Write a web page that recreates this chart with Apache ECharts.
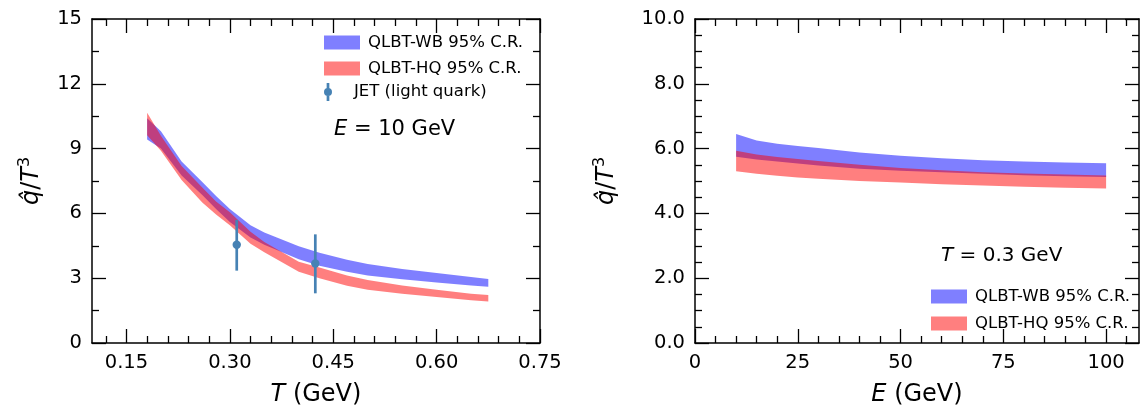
<!DOCTYPE html>
<html>
<head>
<meta charset="utf-8">
<script src="https://cdn.jsdelivr.net/npm/echarts@6/dist/echarts.min.js"></script>
<style>
  html, body { margin: 0; padding: 0; background: #fff; }
  #chart { width: 1140px; height: 411px; }
</style>
</head>
<body>
<div id="chart"></div>
<script>
// 左图: qhat/T^3 随 T 变化 (E = 10 GeV)
const tempT  = [0.18, 0.20, 0.23, 0.26, 0.28, 0.30, 0.33, 0.35, 0.40, 0.43, 0.47, 0.50, 0.55, 0.60, 0.65, 0.675];
const wbTopT = [10.4, 9.8, 8.4, 7.45, 6.8, 6.2, 5.45, 5.12, 4.48, 4.18, 3.85, 3.66, 3.43, 3.24, 3.05, 2.96];
const wbBotT = [9.42, 9.0, 7.75, 6.85, 6.2, 5.6, 4.88, 4.55, 3.88, 3.58, 3.3, 3.12, 2.95, 2.8, 2.66, 2.6];
const hqTopT = [10.66, 9.6, 8.2, 7.2, 6.55, 6.05, 5.15, 4.68, 3.76, 3.5, 3.12, 2.92, 2.66, 2.46, 2.28, 2.22];
const hqBotT = [9.62, 8.9, 7.55, 6.5, 5.95, 5.45, 4.6, 4.2, 3.3, 3.0, 2.65, 2.47, 2.28, 2.13, 1.98, 1.92];

// JET 点 (light quark)
const jetT   = [0.31, 0.424];
const jetVal = [4.55, 3.68];
const jetLo  = [3.35, 2.3];
const jetHi  = [5.7, 5.03];

// 右图: qhat/T^3 随 E 变化 (T = 0.3 GeV)
const energyE = [10, 15, 20, 25, 30, 40, 50, 60, 70, 80, 90, 100];
const wbTopE  = [6.45, 6.25, 6.15, 6.08, 6.02, 5.88, 5.78, 5.7, 5.64, 5.6, 5.57, 5.55];
const wbBotE  = [5.75, 5.66, 5.6, 5.54, 5.48, 5.38, 5.32, 5.27, 5.22, 5.18, 5.15, 5.12];
const hqTopE  = [5.93, 5.82, 5.74, 5.68, 5.62, 5.5, 5.4, 5.33, 5.27, 5.23, 5.2, 5.17];
const hqBotE  = [5.3, 5.22, 5.16, 5.11, 5.07, 5.0, 4.95, 4.9, 4.86, 4.82, 4.79, 4.77];

// 刻度
const tMajor = [0.15, 0.30, 0.45, 0.60, 0.75];
const tMinor = [0.12, 0.18, 0.21, 0.24, 0.27, 0.33, 0.36, 0.39, 0.42, 0.48, 0.51, 0.54, 0.57, 0.63, 0.66, 0.69, 0.72];
const qLeftMajor = [0, 3, 6, 9, 12, 15];
const qLeftMinor = [1.5, 4.5, 7.5, 10.5, 13.5];
const eMajor = [0, 25, 50, 75, 100];
const eMinor = [5, 10, 15, 20, 30, 35, 40, 45, 55, 60, 65, 70, 80, 85, 90, 95, 105];
const qRightMajor = [0, 2, 4, 6, 8, 10];
const qRightMinor = [0.5, 1, 1.5, 2.5, 3, 3.5, 4.5, 5, 5.5, 6.5, 7, 7.5, 8.5, 9, 9.5];

const FONT = 'DejaVu Sans';
const WB_COLOR = 'rgba(0, 0, 255, 0.5)';
const HQ_COLOR = 'rgba(255, 0, 0, 0.5)';
const JET_COLOR = '#4682b4';

const chart = echarts.init(document.getElementById('chart'));

// 一个坐标方向上的四根轴: 主刻度/次刻度, 两侧各一套 (刻度朝内)
function makeAxes(dim, gridIndex, min, max, major, minor, fmt, name, nameGap) {
  const sides = dim === 'x' ? ['bottom', 'top'] : ['left', 'right'];
  const axes = [];
  sides.forEach((pos, si) => {
    [major, minor].forEach((vals, mi) => {
      const isMain = si === 0 && mi === 0;
      axes.push({
        type: 'value',
        gridIndex,
        position: pos,
        min,
        max,
        nameMoveOverlap: false,
        name: isMain ? name : '',
        nameLocation: 'middle',
        nameGap,
        nameTextStyle: {
          fontFamily: FONT,
          fontSize: 24,
          color: '#000',
          rich: {
            i: { fontFamily: FONT, fontSize: 24, fontStyle: 'italic', color: '#000' },
            s: { fontFamily: FONT, fontSize: 16, color: '#000', padding: [0, 0, 14, 0] },
          },
        },
        axisLine: {
          show: mi === 0,
          onZero: false,
          lineStyle: { color: '#000', width: 1.5 },
        },
        axisTick: {
          show: true,
          inside: true,
          length: mi === 0 ? 14 : 7,
          customValues: vals,
          lineStyle: { color: '#000', width: 1.3 },
        },
        axisLabel: {
          show: isMain,
          customValues: vals,
          formatter: fmt,
          margin: 10,
          fontFamily: FONT,
          fontSize: 19.5,
          color: '#000',
        },
        splitLine: { show: false },
      });
    });
  });
  return axes;
}

function bandSeries(name, xs, top, bot, color, axisIndex) {
  return {
    name,
    type: 'custom',
    xAxisIndex: axisIndex,
    yAxisIndex: axisIndex,
    itemStyle: { color },
    data: xs.map((v, i) => [v, top[i], bot[i]]),
    encode: { x: 0, y: [1, 2] },
    renderItem(params, api) {
      if (params.dataIndex !== 0) return null;
      const pts = [];
      for (let i = 0; i < xs.length; i++) pts.push(api.coord([xs[i], top[i]]));
      for (let i = xs.length - 1; i >= 0; i--) pts.push(api.coord([xs[i], bot[i]]));
      return { type: 'polygon', shape: { points: pts }, style: { fill: color } };
    },
  };
}

const legendText = { fontFamily: FONT, fontSize: 16.5, color: '#000', lineHeight: 16, padding: [0, 0, 0, 3] };

const option = {
  animation: false,
  backgroundColor: '#fff',
  grid: [
    { left: 92, top: 19, width: 448, height: 324, outerBoundsMode: 'none', containLabel: false },
    { left: 695, top: 19, width: 444, height: 324, outerBoundsMode: 'none', containLabel: false },
  ],
  xAxis: [
    ...makeAxes('x', 0, 0.1, 0.75, tMajor, tMinor, v => v.toFixed(2), '{i|T} (GeV)', 40),
    ...makeAxes('x', 1, 0, 108, eMajor, eMinor, v => String(Math.round(v)), '{i|E} (GeV)', 40),
  ],
  yAxis: [
    ...makeAxes('y', 0, 0, 15, qLeftMajor, qLeftMinor, v => String(Math.round(v)), '{i|q\u0302}/{i|T}{s|3}', 45),
    ...makeAxes('y', 1, 0, 10, qRightMajor, qRightMinor, v => v.toFixed(1), '{i|q\u0302}/{i|T}{s|3}', 73),
  ],
  legend: [
    {
      data: ['QLBT-WB 95% C.R.', 'QLBT-HQ 95% C.R.'],
      orient: 'vertical',
      left: 319,
      top: 29,
      itemWidth: 36,
      itemHeight: 14,
      itemGap: 9,
      icon: 'rect',
      selectedMode: false,
      textStyle: legendText,
    },
    {
      data: [{
        name: 'JET (light quark)',
        icon: 'path://M2.65,0L5.35,0L5.35,18L2.65,18Z M8,9A4,4,0,1,1,0,9A4,4,0,1,1,8,9Z',
      }],
      left: 319,
      top: 78,
      itemWidth: 36,
      itemHeight: 18,
      selectedMode: false,
      textStyle: legendText,
    },
    {
      data: ['QLBT-WB 95% C.R.', 'QLBT-HQ 95% C.R.'],
      orient: 'vertical',
      left: 926,
      top: 283,
      itemWidth: 36,
      itemHeight: 14,
      itemGap: 10,
      icon: 'rect',
      selectedMode: false,
      textStyle: legendText,
    },
  ],
  graphic: [
    {
      type: 'text',
      left: 334,
      top: 119,
      style: {
        text: '{i|E} = 10 GeV',
        font: '21px "DejaVu Sans"',
        fill: '#000',
        rich: { i: { fontFamily: FONT, fontSize: 21, fontStyle: 'italic', fill: '#000' } },
      },
    },
    {
      type: 'text',
      left: 941,
      top: 246,
      style: {
        text: '{i|T} = 0.3 GeV',
        font: '20px "DejaVu Sans"',
        fill: '#000',
        rich: { i: { fontFamily: FONT, fontSize: 20, fontStyle: 'italic', fill: '#000' } },
      },
    },
  ],
  series: [
    bandSeries('QLBT-WB 95% C.R.', tempT, wbTopT, wbBotT, WB_COLOR, 0),
    bandSeries('QLBT-HQ 95% C.R.', tempT, hqTopT, hqBotT, HQ_COLOR, 0),
    {
      name: 'JET (light quark)',
      type: 'custom',
      xAxisIndex: 0,
      yAxisIndex: 0,
      itemStyle: { color: JET_COLOR },
      data: jetT.map((t, i) => [t, jetVal[i], jetLo[i], jetHi[i]]),
      encode: { x: 0, y: [1, 2, 3] },
      renderItem(params, api) {
        const c = api.coord([api.value(0), api.value(1)]);
        const lo = api.coord([api.value(0), api.value(2)]);
        const hi = api.coord([api.value(0), api.value(3)]);
        return {
          type: 'group',
          children: [
            { type: 'line', shape: { x1: lo[0], y1: lo[1], x2: hi[0], y2: hi[1] }, style: { stroke: JET_COLOR, lineWidth: 2.7 } },
            { type: 'circle', shape: { cx: c[0], cy: c[1], r: 4.2 }, style: { fill: JET_COLOR } },
          ],
        };
      },
    },
    bandSeries('QLBT-WB 95% C.R.', energyE, wbTopE, wbBotE, WB_COLOR, 4),
    bandSeries('QLBT-HQ 95% C.R.', energyE, hqTopE, hqBotE, HQ_COLOR, 4),
  ],
};

chart.setOption(option);
</script>
</body>
</html>
